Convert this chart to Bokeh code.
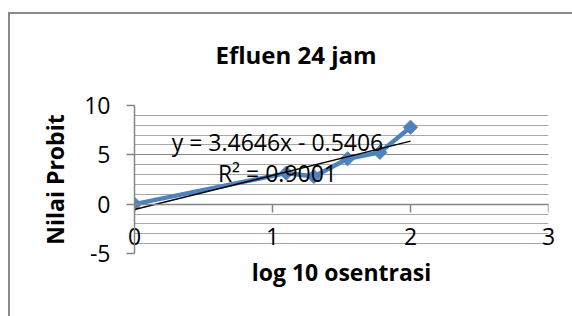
import numpy as np
from bokeh.plotting import figure
from bokeh.models import Range1d, LinearAxis, SingleIntervalTicker, Label
from bokeh.embed import file_html
from bokeh.resources import INLINE

# ---- data ----
log_conc = [0.0, 1.1, 1.3, 1.544, 1.778, 2.0]
probit = [0.0, 3.15, 2.8, 4.6, 5.25, 7.8]
slope = 3.4646
intercept = -0.5406
r_squared = 0.9001
title_text = "Efluen 24 jam"
x_label = "log 10 osentrasi"
y_label = "Nilai Probit"

FONT = "Open Sans"
BLUE = "#4F81BD"
GRAY = "#868686"
BORDER = "#8A8A8A"

p = figure(width=572, height=316, output_backend="svg", toolbar_location=None,
           x_range=Range1d(0, 3), y_range=Range1d(-5, 10), x_axis_location=None,
           min_border_left=134, min_border_right=24, min_border_top=102, min_border_bottom=63,
           title=title_text)
p.outline_line_color = None
p.background_fill_color = "white"
p.border_fill_color = None
# chart-area border (left and top edges of the Excel chart box)
p.styles = {
    "background": (f"linear-gradient({BORDER},{BORDER}) 8px 12px / 2px 100% no-repeat, "
                   f"linear-gradient({BORDER},{BORDER}) 8px 12px / 100% 2px no-repeat, white"),
}

# title
p.title.text_font = FONT
p.title.text_font_style = "bold"
p.title.text_font_size = "24px"
p.title.text_color = "black"
p.title.align = "left"
p.title.offset = 81
p.title.standoff = 70

# y axis
yticker = SingleIntervalTicker(interval=5, num_minor_ticks=5)
yax = p.yaxis[0]
yax.ticker = yticker
yax.major_label_overrides = {-5: "-5"}
yax.axis_label = y_label
yax.axis_label_text_font = FONT
yax.axis_label_text_font_style = "bold"
yax.axis_label_text_font_size = "23px"
yax.axis_label_text_color = "black"
yax.axis_label_standoff = 10
yax.major_label_text_font = FONT
yax.major_label_text_font_size = "23px"
yax.major_label_text_color = "black"
yax.major_label_standoff = 16
yax.major_tick_out = 8
yax.major_tick_in = 0
yax.minor_tick_out = 0
yax.minor_tick_in = 0
yax.axis_line_color = GRAY
yax.axis_line_width = 1.5
yax.major_tick_line_color = GRAY
yax.major_tick_line_width = 1.5

xticker = SingleIntervalTicker(interval=1, num_minor_ticks=0)

# x axis line with ticks, crossing at y = 0 (labels drawn by the axis below)
xline = LinearAxis(fixed_location=0, ticker=xticker)
xline.major_label_text_font_size = "0px"
xline.major_label_text_alpha = 0
xline.major_tick_out = 8
xline.major_tick_in = 0
xline.minor_tick_out = 0
xline.axis_line_color = GRAY
xline.axis_line_width = 1.5
xline.major_tick_line_color = GRAY
xline.major_tick_line_width = 1.5
p.add_layout(xline, "below")

# x tick labels (Excel draws them low, just above the plot-area bottom) and title
xax = LinearAxis(ticker=xticker, axis_label=x_label)
xax.axis_line_color = None
xax.major_tick_line_color = None
xax.minor_tick_line_color = None
xax.major_tick_out = 0
xax.minor_tick_out = 0
xax.major_label_text_font = FONT
xax.major_label_text_font_size = "23px"
xax.major_label_text_color = "black"
xax.major_label_standoff = -26
xax.axis_label_text_font = FONT
xax.axis_label_text_font_style = "bold"
xax.axis_label_text_font_size = "23px"
xax.axis_label_text_color = "black"
xax.axis_label_standoff = 8
p.add_layout(xax, "below")

# grids
p.xgrid.visible = False
p.ygrid.ticker = yticker
p.ygrid.grid_line_color = GRAY
p.ygrid.grid_line_width = 1.2
p.ygrid.minor_grid_line_color = "#A6A6A6"
p.ygrid.minor_grid_line_width = 1

# series
p.line(log_conc, probit, line_color=BLUE, line_width=4.5)
p.scatter(log_conc, probit, marker="square", angle=np.pi / 4, size=10,
          fill_color=BLUE, line_color=BLUE)

# linear trendline
xt = np.array([min(log_conc), max(log_conc)])
p.line(xt, slope * xt + intercept, line_color="black", line_width=1.5)

eq = Label(x=1.036, y=6.29, text=f"y = {slope}x - {abs(intercept)}",
           text_align="center", text_baseline="middle",
           text_font=FONT, text_font_size="23px", text_color="black")
r2 = Label(x=1.036, y=3.11, text=f"R² = {r_squared}",
           text_align="center", text_baseline="middle",
           text_font=FONT, text_font_size="23px", text_color="black")
p.add_layout(eq)
p.add_layout(r2)

open("out.html", "w").write(file_html(p, INLINE))
